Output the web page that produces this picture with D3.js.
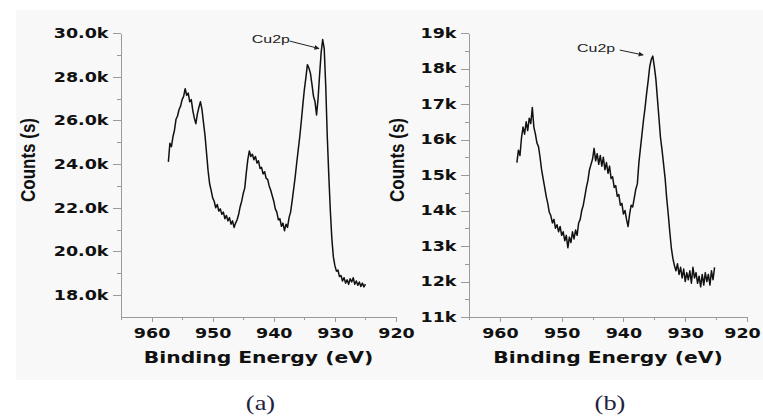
<!DOCTYPE html>
<html>
<head>
<meta charset="utf-8">
<script src="https://cdn.jsdelivr.net/npm/d3@7"></script>
<style>
  html, body { margin: 0; padding: 0; background: #fff; }
  svg { display: block; }
  .axis path, .axis line { stroke: #9a9a9a; stroke-width: 1; shape-rendering: crispEdges; }
  .axis text { font-family: "DejaVu Sans", sans-serif; font-weight: bold; font-size: 14px; fill: #111; }
  .xtitle { font-family: "DejaVu Sans", sans-serif; font-weight: bold; font-size: 16px; fill: #111; }
  .ytitle { font-family: "Liberation Sans", Arial, sans-serif; font-weight: bold; font-size: 20px; fill: #111; }
  .note { font-family: "Liberation Sans", Arial, sans-serif; font-size: 11px; fill: #222; }
  .caption { font-family: "Liberation Serif", "Times New Roman", serif; font-size: 22px; fill: #1f2340; }
</style>
</head>
<body>
<svg id="chart" width="763" height="419"></svg>
<script>
// spectrum (a): [binding energy eV, counts]
var spectrumA = [
  [957.25,24100],[957.0,24950],[956.75,24800],[956.5,25250],[956.25,25550],[956.0,26050],
  [955.75,26200],[955.5,26500],[955.25,26650],[955.0,26950],[954.75,27100],[954.5,27450],
  [954.25,27150],[954.0,27250],[953.75,26850],[953.5,26950],[953.25,26450],[953.0,26100],
  [952.75,25850],[952.5,26300],[952.25,26600],[952.0,26850],[951.75,26500],[951.5,25900],
  [951.25,25300],[951.0,24500],[950.75,23700],[950.5,23100],[950.25,22800],[950.0,22450],
  [949.75,22300],[949.5,22000],[949.25,22150],[949.0,21850],[948.75,21950],[948.5,21700],
  [948.25,21800],[948.0,21500],[947.75,21650],[947.5,21400],[947.25,21550],[947.0,21250],
  [946.75,21400],[946.5,21100],[946.25,21300],[946.0,21450],[945.75,21700],[945.5,22050],
  [945.25,22300],[945.0,22650],[944.75,22900],[944.5,23600],[944.25,24200],[944.0,24600],
  [943.75,24350],[943.5,24450],[943.25,24200],[943.0,24350],[942.75,24050],[942.5,24150],
  [942.25,23800],[942.0,23850],[941.75,23550],[941.5,23650],[941.25,23350],[941.0,23300],
  [940.75,23000],[940.5,22800],[940.25,22550],[940.0,22300],[939.75,21950],[939.5,21800],
  [939.25,21450],[939.0,21500],[938.75,21150],[938.5,21300],[938.25,20950],[938.0,21250],
  [937.75,21100],[937.5,21550],[937.25,21800],[937.0,22300],[936.75,22850],[936.5,23400],
  [936.25,24050],[936.0,24650],[935.75,25250],[935.5,25950],[935.25,26700],[935.0,27400],
  [934.75,27950],[934.5,28550],[934.25,28400],[934.0,28150],[933.75,27650],[933.5,27100],
  [933.25,26850],[933.0,26250],[932.75,27000],[932.5,28100],[932.25,29100],[932.0,29700],
  [931.75,29300],[931.5,27600],[931.25,25300],[931.0,23500],[930.75,21900],[930.5,20600],
  [930.25,19750],[930.0,19350],[929.75,19100],[929.5,19150],[929.25,18850],[929.0,18900],
  [928.75,18650],[928.5,18800],[928.25,18550],[928.0,18700],[927.75,18500],[927.5,18750],
  [927.25,18600],[927.0,18800],[926.75,18500],[926.5,18650],[926.25,18450],[926.0,18600],
  [925.75,18400],[925.5,18550],[925.25,18380],[925.0,18500]
];

// spectrum (b)
var spectrumB = [
  [957.25,15350],[957.0,15700],[956.75,15550],[956.5,16050],[956.25,16350],[956.0,16150],
  [955.75,16500],[955.5,16250],[955.25,16600],[955.0,16450],[954.75,16900],[954.5,16350],
  [954.25,16150],[954.0,15900],[953.75,15800],[953.5,15500],[953.25,15150],[953.0,14900],
  [952.75,14650],[952.5,14400],[952.25,14200],[952.0,13950],[951.75,13850],[951.5,13650],
  [951.25,13750],[951.0,13500],[950.75,13600],[950.5,13400],[950.25,13550],[950.0,13300],
  [949.75,13400],[949.5,13150],[949.25,13300],[949.0,12950],[948.75,13250],[948.5,13100],
  [948.25,13400],[948.0,13200],[947.75,13450],[947.5,13300],[947.25,13650],[947.0,13750],
  [946.75,14000],[946.5,14150],[946.25,14400],[946.0,14650],[945.75,14850],[945.5,15150],
  [945.25,15300],[945.0,15450],[944.75,15750],[944.5,15400],[944.25,15600],[944.0,15300],
  [943.75,15550],[943.5,15250],[943.25,15500],[943.0,15150],[942.75,15350],[942.5,15050],
  [942.25,15250],[942.0,14900],[941.75,14950],[941.5,14650],[941.25,14700],[941.0,14400],
  [940.75,14450],[940.5,14150],[940.25,14200],[940.0,13900],[939.75,14000],[939.5,13750],
  [939.25,13550],[939.0,13900],[938.75,14150],[938.5,14100],[938.25,14350],[938.0,14600],
  [937.75,14750],[937.5,15350],[937.25,15750],[937.0,16150],[936.75,16550],[936.5,16900],
  [936.25,17300],[936.0,17650],[935.75,18050],[935.5,18250],[935.25,18350],[935.0,18050],
  [934.75,17700],[934.5,17150],[934.25,16600],[934.0,16050],[933.75,15700],[933.5,15300],
  [933.25,14900],[933.0,14350],[932.75,13900],[932.5,13400],[932.25,12950],[932.0,12650],
  [931.75,12450],[931.5,12300],[931.25,12500],[931.0,12200],[930.75,12400],[930.5,12100],
  [930.25,12350],[930.0,12000],[929.75,12250],[929.5,12050],[929.25,12300],[929.0,11950],
  [928.75,12400],[928.5,12100],[928.25,12250],[928.0,11950],[927.75,12150],[927.5,11850],
  [927.25,12200],[927.0,11900],[926.75,12250],[926.5,12000],[926.25,12200],[926.0,11900],
  [925.75,12300],[925.5,12050],[925.25,12400]
];

var energyTicks = [960, 950, 940, 930, 920];
var energyMinor = [965, 955, 945, 935, 925];
var countTicksA = [18000, 20000, 22000, 24000, 26000, 28000, 30000];
var countMinorA = [19000, 21000, 23000, 25000, 27000, 29000];
var countTicksB = [11000, 12000, 13000, 14000, 15000, 16000, 17000, 18000, 19000];
var countMinorB = [11500, 12500, 13500, 14500, 15500, 16500, 17500, 18500];
var peakLabel = 'Cu2p';
var captions = ['(a)', '(b)'];

var svg = d3.select('#chart');
var STRETCH = 1.25; // the source figure is stretched horizontally

svg.append('rect')
  .attr('x', 16).attr('y', 10)
  .attr('width', 747).attr('height', 370)
  .attr('fill', '#f8f8f8');

svg.append('defs').append('marker')
  .attr('id', 'arrow')
  .attr('viewBox', '0 0 10 10')
  .attr('refX', 9).attr('refY', 5)
  .attr('markerWidth', 7).attr('markerHeight', 5)
  .attr('orient', 'auto')
  .append('path')
  .attr('d', 'M0,0L10,5L0,10z')
  .attr('fill', '#222');

function drawPanel(o) {
  var x = d3.scaleLinear().domain([965, 920]).range([o.left, o.right]);
  var y = d3.scaleLinear().domain(o.yDomain).range([317, 33]);
  var g = svg.append('g');

  // minor ticks first, major on top
  g.append('g').attr('class', 'axis')
    .attr('transform', 'translate(0,317)')
    .call(d3.axisBottom(x).tickValues(energyMinor).tickSize(3).tickSizeOuter(0).tickFormat(''));
  var xa = g.append('g').attr('class', 'axis')
    .attr('transform', 'translate(0,317)')
    .call(d3.axisBottom(x).tickValues(energyTicks).tickSize(5).tickSizeOuter(0).tickPadding(6));
  xa.selectAll('text')
    .attr('x', function(d) { return d === 920 ? o.lastShift / STRETCH : 0; })
    .attr('transform', 'scale(' + STRETCH + ',1)');

  g.append('g').attr('class', 'axis')
    .attr('transform', 'translate(' + o.left + ',0)')
    .call(d3.axisLeft(y).tickValues(o.minor).tickSize(4).tickSizeOuter(0).tickFormat(''));
  var ya = g.append('g').attr('class', 'axis')
    .attr('transform', 'translate(' + o.left + ',0)')
    .call(d3.axisLeft(y).tickValues(o.major).tickSize(8).tickSizeOuter(0).tickPadding(2).tickFormat(o.fmt));
  ya.selectAll('text').attr('transform', 'scale(' + STRETCH + ',1)');

  var line = d3.line()
    .x(function(d) { return x(d[0]); })
    .y(function(d) { return y(d[1]); });

  g.append('path')
    .datum(o.data)
    .attr('d', line)
    .attr('fill', 'none')
    .attr('stroke', '#111')
    .attr('stroke-width', 1.5)
    .attr('stroke-linejoin', 'round');

  // peak annotation
  var n = o.note;
  g.append('text').attr('class', 'note')
    .attr('transform', 'translate(' + x(n.textE) + ',' + y(n.textC) + ') scale(1.45,1)')
    .text(peakLabel);
  g.append('line')
    .attr('x1', x(n.fromE)).attr('y1', y(n.fromC))
    .attr('x2', x(n.toE)).attr('y2', y(n.toC))
    .attr('stroke', '#222').attr('stroke-width', 1)
    .attr('marker-end', 'url(#arrow)');

  var cx = (o.left + o.right) / 2;
  g.append('text').attr('class', 'xtitle')
    .attr('text-anchor', 'middle')
    .attr('transform', 'translate(' + cx + ',363) scale(1.27,1)')
    .text('Binding Energy (eV)');

  g.append('text').attr('class', 'ytitle')
    .attr('text-anchor', 'middle')
    .attr('transform', 'translate(' + o.titleX + ',160) rotate(-90) scale(0.85,1)')
    .text('Counts (s)');

  g.append('text').attr('class', 'caption')
    .attr('text-anchor', 'middle')
    .attr('transform', 'translate(' + (cx + 2) + ',410) scale(1.2,1)')
    .text(o.caption);
}

drawPanel({
  left: 121, right: 396, titleX: 35, lastShift: 0,
  yDomain: [17000, 30000],
  major: countTicksA, minor: countMinorA,
  fmt: function(d) { return (d / 1000).toFixed(1) + 'k'; },
  data: spectrumA,
  note: { textE: 943.6, textC: 29540, fromE: 937.4, fromC: 29630, toE: 932.6, toC: 29290 },
  caption: captions[0]
});

drawPanel({
  left: 469, right: 747, titleX: 404, lastShift: -5,
  yDomain: [11000, 19000],
  major: countTicksB, minor: countMinorB,
  fmt: function(d) { return (d / 1000) + 'k'; },
  data: spectrumB,
  note: { textE: 947.5, textC: 18470, fromE: 940.6, fromC: 18520, toE: 936.8, toC: 18380 },
  caption: captions[1]
});
</script>
</body>
</html>
